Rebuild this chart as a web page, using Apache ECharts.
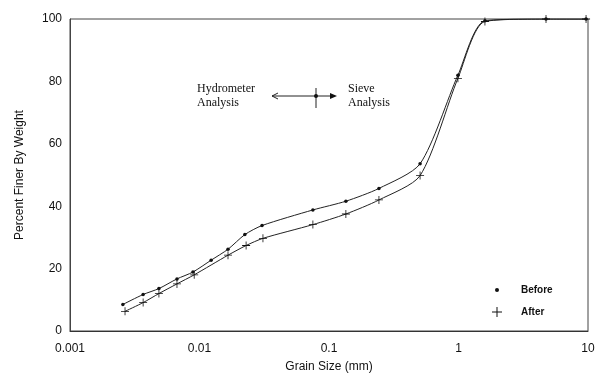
<!DOCTYPE html>
<html>
<head>
<meta charset="utf-8">
<script src="https://cdn.jsdelivr.net/npm/echarts@6/dist/echarts.min.js"></script>
<style>
html, body { margin: 0; padding: 0; background: #fff; }
#chart { width: 609px; height: 378px; }
</style>
</head>
<body>
<div id="chart"></div>
<script>
/* grain sizes (mm) and percent finer */
var beforeSize = [0.00256, 0.00367, 0.00486, 0.0067, 0.0089, 0.0123, 0.0166, 0.0224, 0.0304, 0.0751, 0.135, 0.243, 0.505, 0.99, 1.6, 4.74, 9.66];
var beforePct = [8.5, 11.7, 13.6, 16.7, 18.9, 22.7, 26.2, 30.9, 33.8, 38.8, 41.6, 45.7, 53.6, 82, 99.4, 100, 100];
var afterSize = [0.00266, 0.00367, 0.00486, 0.0067, 0.0091, 0.0166, 0.0229, 0.0309, 0.0751, 0.135, 0.243, 0.505, 0.99, 1.6, 4.74, 9.66];
var afterPct = [6.3, 9.1, 12.0, 15.1, 18.0, 24.3, 27.4, 29.7, 34.1, 37.5, 42.0, 49.8, 81, 99.2, 100, 100];
var yTicks = [0, 20, 40, 60, 80, 100];
var xTicks = ['0.001', '0.01', '0.1', '1', '10'];

var crossPath = 'path://M4.5,0h1v4.5h4.5v1h-4.5v4.5h-1v-4.5h-4.5v-1h4.5z';

var pair = function (xs, ys) {
    return xs.map(function (x, i) { return [x, ys[i]]; });
};

var chart = echarts.init(document.getElementById('chart'));
var sans = 'Liberation Sans, Arial, sans-serif';
var serif = 'Liberation Serif, Times New Roman, serif';

var option = {
    backgroundColor: '#fff',
    animation: false,
    grid: {
        left: 70, right: 21, top: 19, bottom: 42,
        show: true, borderColor: '#444', borderWidth: 1
    },
    xAxis: {
        type: 'log', logBase: 10, min: 0.001, max: 10,
        name: 'Grain Size (mm)', nameLocation: 'middle', nameGap: 30,
        nameTextStyle: { fontFamily: sans, fontSize: 12, color: '#111' },
        axisLine: { lineStyle: { color: '#333', width: 1 } },
        axisTick: { show: false },
        splitLine: { show: false },
        minorTick: { show: false },
        axisLabel: {
            fontFamily: sans, fontSize: 12, color: '#111', margin: 12,
            formatter: function (v) {
                var s = xTicks.filter(function (t) { return Math.abs(parseFloat(t) - v) / v < 1e-6; });
                return s.length ? s[0] : '';
            }
        }
    },
    yAxis: {
        type: 'value', min: yTicks[0], max: yTicks[yTicks.length - 1], interval: 20,
        name: 'Percent Finer By Weight', nameLocation: 'middle', nameGap: 44,
        nameTextStyle: { fontFamily: sans, fontSize: 12, color: '#111' },
        axisLine: { show: true, lineStyle: { color: '#444', width: 1 } },
        axisTick: { show: false },
        splitLine: { show: false },
        axisLabel: { fontFamily: sans, fontSize: 12, color: '#111', margin: 8 }
    },
    legend: [{
        data: ['Before'], orient: 'vertical', left: 490, top: 280,
        icon: 'circle', itemWidth: 4, itemHeight: 4,
        textStyle: { fontFamily: sans, fontSize: 10, fontWeight: 'bold', color: '#111', padding: [0, 0, 0, 17] },
        selectedMode: false
    }, {
        data: ['After'], orient: 'vertical', left: 487, top: 302,
        icon: crossPath, itemWidth: 10, itemHeight: 10,
        textStyle: { fontFamily: sans, fontSize: 10, fontWeight: 'bold', color: '#111', padding: [0, 0, 0, 14] },
        selectedMode: false
    }],
    series: [{
        name: 'Before',
        type: 'line',
        data: pair(beforeSize, beforePct),
        smooth: 0.25,
        symbol: 'circle', symbolSize: 3.5,
        itemStyle: { color: '#111' },
        lineStyle: { color: '#222', width: 1 }
    }, {
        name: 'After',
        type: 'line',
        data: pair(afterSize, afterPct),
        smooth: 0.25,
        symbol: crossPath, symbolSize: 8,
        itemStyle: { color: '#111' },
        lineStyle: { color: '#222', width: 1 }
    }],
    graphic: [
        { type: 'text', left: 197, top: 82, style: { text: 'Hydrometer\nAnalysis', font: '12px ' + serif, lineHeight: 14, fill: '#111' } },
        { type: 'text', left: 348, top: 82, style: { text: 'Sieve\nAnalysis', font: '12px ' + serif, lineHeight: 14, fill: '#111' } },
        { type: 'line', shape: { x1: 272, y1: 96, x2: 334, y2: 96 }, style: { stroke: '#222', lineWidth: 1 } },
        { type: 'polyline', shape: { points: [[278, 93], [272, 96], [278, 99]] }, style: { stroke: '#222', lineWidth: 1, fill: null } },
        { type: 'polygon', shape: { points: [[330, 93], [337, 96], [330, 99]] }, style: { fill: '#111' } },
        { type: 'line', shape: { x1: 316, y1: 88, x2: 316, y2: 108 }, style: { stroke: '#222', lineWidth: 1 } },
        { type: 'circle', shape: { cx: 316, cy: 96, r: 2 }, style: { fill: '#111' } }
    ]
};
chart.setOption(option);
</script>
</body>
</html>
